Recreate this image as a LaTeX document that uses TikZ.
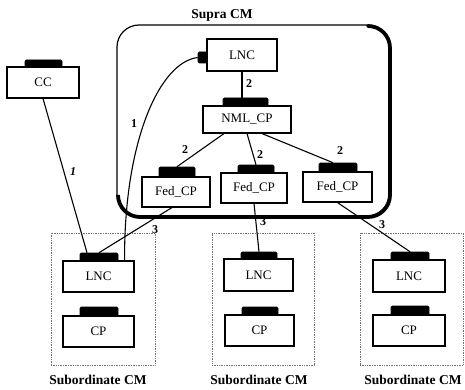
\documentclass[tikz,border=0pt]{standalone}
\usepackage{fontspec}
\setmainfont{Liberation Serif}
\usetikzlibrary{calc}
\begin{document}
\begin{tikzpicture}[x=1pt,y=-1pt,
  unit/.style={draw, fill=white, line width=1.1pt, inner sep=0pt,
    font=\fontsize{13}{15}\selectfont},
  port/.style={fill=black, draw=black, line width=0.6pt, rounded corners=1.2pt, inner sep=0pt},
  link/.style={line width=1.1pt},
  num/.style={font=\bfseries\fontsize{12}{14}\selectfont, inner sep=0pt},
  title/.style={font=\bfseries\fontsize{13.5}{16}\selectfont, inner sep=0pt},
  group/.style={draw=black!55, densely dotted, line width=0.7pt, inner sep=0pt}]
\useasboundingbox (0,0) rectangle (465,390);

% Supra CM enclosure: thin outline, heavy shadow edge on the right and bottom
\draw[line width=1.2pt, rounded corners=22pt] (117,25) rectangle (389,216);
\draw[line width=3.8pt, line cap=round, rounded corners=22pt]
  (368,26) -- (390,26) -- (390,217) -- (118,217) -- (118,196);
\node[title] at (222,15) {Supra CM};

% Subordinate CM groups
\node[group, minimum width=104, minimum height=132] (sub1) at (103,299) {};
\node[group, minimum width=102, minimum height=132] (sub2) at (263,299) {};
\node[group, minimum width=103, minimum height=132] (sub3) at (411.5,299) {};
\node[title] (t1) at (98,380) {Subordinate CM};
\node[title] (t2) at (259,380) {Subordinate CM};
\node[title] (t3) at (413,380) {Subordinate CM};

% Units inside the Supra CM
\node[unit, minimum width=70, minimum height=32] (lnc0) at (242,55) {LNC};
\node[port, minimum width=9, minimum height=11] (lp0) at (202.5,57.5) {};
\node[unit, minimum width=88, minimum height=27] (nml) at (247,119.5) {NML\_CP};
\node[port, minimum width=45, minimum height=8] (np) at (245.5,102) {};
\node[unit, minimum width=68, minimum height=30] (fed1) at (176,192) {Fed\_CP};
\node[port, minimum width=36, minimum height=10] (fp1) at (177,172) {};
\node[unit, minimum width=66, minimum height=30] (fed2) at (254,188) {Fed\_CP};
\node[port, minimum width=36, minimum height=8] (fp2) at (256,169) {};
\node[unit, minimum width=69, minimum height=30] (fed3) at (337.5,187) {Fed\_CP};
\node[port, minimum width=38, minimum height=9] (fp3) at (338,167.5) {};

% Central controller
\node[unit, minimum width=72, minimum height=31] (cc) at (43,82.5) {CC};
\node[port, minimum width=37, minimum height=7] (ccp) at (43.5,63.5) {};

% Units inside the subordinate CMs
\node[unit, minimum width=71, minimum height=31] (sl1) at (98.5,276.5) {LNC};
\node[port, minimum width=38, minimum height=8] (sp1) at (99,257) {};
\node[unit, minimum width=71, minimum height=31] (sc1) at (98.5,331.5) {CP};
\node[port, minimum width=38, minimum height=9] (scp1) at (99,311.5) {};

\node[unit, minimum width=69, minimum height=32] (sl2) at (258.5,275) {LNC};
\node[port, minimum width=36, minimum height=7] (sp2) at (259,255.5) {};
\node[unit, minimum width=69, minimum height=31] (sc2) at (259.5,330.5) {CP};
\node[port, minimum width=36, minimum height=8] (scp2) at (260,311) {};

\node[unit, minimum width=72, minimum height=32] (sl3) at (409,276) {LNC};
\node[port, minimum width=38, minimum height=8] (sp3) at (410,256) {};
\node[unit, minimum width=72, minimum height=31] (sc3) at (409,330.5) {CP};
\node[port, minimum width=38, minimum height=9] (scp3) at (410,310.5) {};

% Connections
\draw[link] (lnc0.south) -- (lnc0.south |- np.north);
\draw[link] ($(nml.south)+(-23,0)$) -- (fp1.north);
\draw[link] (nml.south) -- (fp2.north);
\draw[link] ($(nml.south)+(15,0)$) -- ($(fp3.north)+(-5,0)$);
\draw[link] ($(fed1.south)+(-4,0)$) -- (sp1.north);
\draw[link] (fed2.south) -- (sp2.north);
\draw[link] (fed3.south) -- (sp3.north);
\draw[link] (cc.south) -- ($(sp1.north)+(-12,0)$);
\draw[link] (lp0.west) .. controls (160,62) and (124,140) .. ($(sl1.north east)+(-10,0)$);

% Link labels
\node[num] at (249,84) {2};
\node[num] at (185,150) {2};
\node[num] at (260,155) {2};
\node[num] at (340,151) {2};
\node[num] at (134,124) {1};
\node[num, font=\bfseries\itshape\fontsize{12}{14}\selectfont] at (73,172) {1};
\node[num] at (155,230) {3};
\node[num] at (263,222) {3};
\node[num] at (382,225) {3};
\end{tikzpicture}
\end{document}
